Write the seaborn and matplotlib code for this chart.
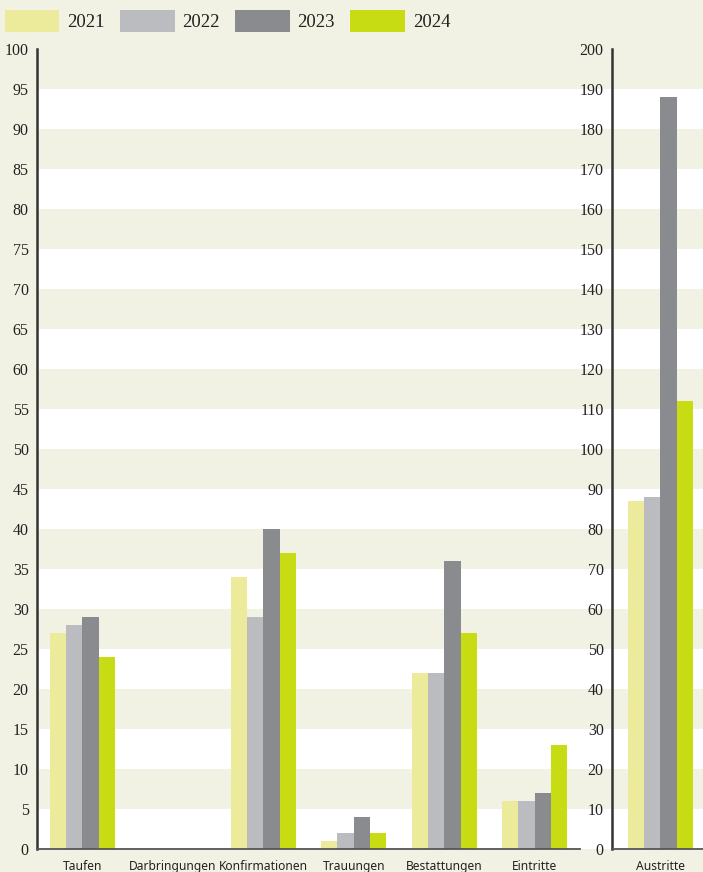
import pandas as pd
import matplotlib.pyplot as plt
import seaborn as sns
from matplotlib.patches import Patch

# Amtshandlungen pro Jahr
years = ['2021', '2022', '2023', '2024']
categories = ['Taufen', 'Darbringungen', 'Konfirmationen', 'Trauungen', 'Bestattungen', 'Eintritte']
taufen = [27, 28, 29, 24]
darbringungen = [0, 0, 0, 0]
konfirmationen = [34, 29, 40, 37]
trauungen = [1, 2, 4, 2]
bestattungen = [22, 22, 36, 27]
eintritte = [6, 6, 7, 13]
austritte = [87, 88, 188, 112]

colors = ['#ebeb9b', '#bbbcc0', '#8a8b8f', '#c8dc14']
bg = '#f2f2e4'
spine_col = '#333333'

left_values = [taufen, darbringungen, konfirmationen, trauungen, bestattungen, eintritte]
rows = []
for cat, vals in zip(categories, left_values):
    for y, v in zip(years, vals):
        rows.append({'Kategorie': cat, 'Jahr': y, 'Anzahl': v})
df_left = pd.DataFrame(rows)
df_right = pd.DataFrame({'Kategorie': ['Austritte'] * 4, 'Jahr': years, 'Anzahl': austritte})

sns.set_theme(style='white')
plt.rcParams['font.family'] = ['Liberation Serif', 'DejaVu Serif']

W, H = 703, 872
fig = plt.figure(figsize=(W / 100, H / 100), dpi=100, facecolor=bg)

bottom = (H - 849) / H
height = 800 / H
x0 = 37 / W

# white stripes behind both panels
ax_bg = fig.add_axes([x0, bottom, 1 - x0, height])
ax_bg.set_ylim(0, 100)
ax_bg.set_xlim(0, 1)
for lo in range(0, 100, 10):
    ax_bg.axhspan(lo, lo + 5, color='white', lw=0)
ax_bg.axis('off')

ax1 = fig.add_axes([x0, bottom, 543 / W, height])
ax2 = fig.add_axes([612 / W, bottom, 91 / W, height])

palette = dict(zip(years, colors))
sns.barplot(data=df_left, x='Kategorie', y='Anzahl', hue='Jahr', hue_order=years,
            palette=palette, width=0.72, saturation=1, legend=False, linewidth=0, ax=ax1)
sns.barplot(data=df_right, x='Kategorie', y='Anzahl', hue='Jahr', hue_order=years,
            palette=palette, width=0.72, saturation=1, legend=False, linewidth=0, ax=ax2)

ax1.set_xlim(-0.5, 5.5)
ax1.set_ylim(0, 100)
ax1.set_yticks(range(0, 101, 5))
ax2.set_xlim(-0.535, 0.47)
ax2.set_ylim(0, 200)
ax2.set_yticks(range(0, 201, 10))

for ax in (ax1, ax2):
    ax.set_facecolor('none')
    ax.set_xlabel('')
    ax.set_ylabel('')
    for s in ('top', 'right'):
        ax.spines[s].set_visible(False)
    ax.spines['left'].set_color(spine_col)
    ax.spines['left'].set_linewidth(1.8)
    ax.spines['bottom'].set_color('#555555')
    ax.spines['bottom'].set_linewidth(1.3)
    ax.tick_params(axis='y', direction='in', length=6, width=1.3, color='#555555',
                   pad=6, labelsize=11.5, labelcolor='#222222')
    ax.tick_params(axis='x', length=0, pad=8, labelcolor='#222222')
    for lab in ax.get_xticklabels():
        lab.set_fontfamily(['Noto Sans', 'DejaVu Sans'])
        lab.set_fontsize(8.7)

handles = [Patch(facecolor=c, edgecolor='none', label=y) for y, c in zip(years, colors)]
fig.legend(handles=handles, loc='upper left', bbox_to_anchor=(5 / W, 1 - 10 / H), ncol=4,
           frameon=False, fontsize=13.5, handlelength=2.9, handleheight=1.4,
           handletextpad=0.42, columnspacing=0.82, borderaxespad=0, borderpad=0,
           labelcolor='#222222')

fig.savefig('out.png', dpi=100, facecolor=bg)
